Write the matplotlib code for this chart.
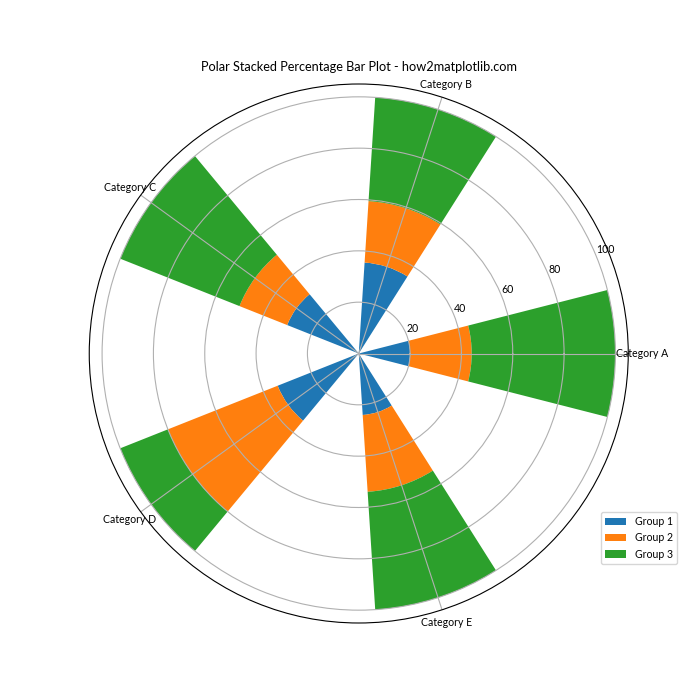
import numpy as np
import matplotlib
matplotlib.use("Agg")
import matplotlib.pyplot as plt

plt.rcParams['font.family'] = ['Lato', 'DejaVu Sans']
plt.rcParams['font.size'] = 7.6
plt.rcParams['axes.titlesize'] = 9.2

categories = ['Category A', 'Category B', 'Category C', 'Category D', 'Category E']
group_labels = ['Group 1', 'Group 2', 'Group 3']
group1 = [20.0, 35.5, 30.0, 34.0, 24.0]
group2 = [24.0, 24.0, 20.0, 46.0, 30.0]
group3 = [56.0, 40.5, 50.0, 20.0, 46.0]

groups = [group1, group2, group3]
angles = np.linspace(0, 2 * np.pi, len(categories), endpoint=False)
width = 0.5

fig, ax = plt.subplots(figsize=(7, 7), dpi=100, subplot_kw=dict(projection='polar'))
bottom = np.zeros(len(categories))
for vals, lab in zip(groups, group_labels):
    vals = np.array(vals)
    ax.bar(angles, vals, width=width, bottom=bottom, label=lab)
    bottom += vals

ax.set_xticks(angles)
ax.set_xticklabels(categories)
ax.tick_params(axis='x', pad=-0.8)
ax.set_title('Polar Stacked Percentage Bar Plot - how2matplotlib.com', pad=9.6)
ax.legend(loc='lower right', bbox_to_anchor=(1.1, 0.1))

fig.savefig('out.png', dpi=100)
